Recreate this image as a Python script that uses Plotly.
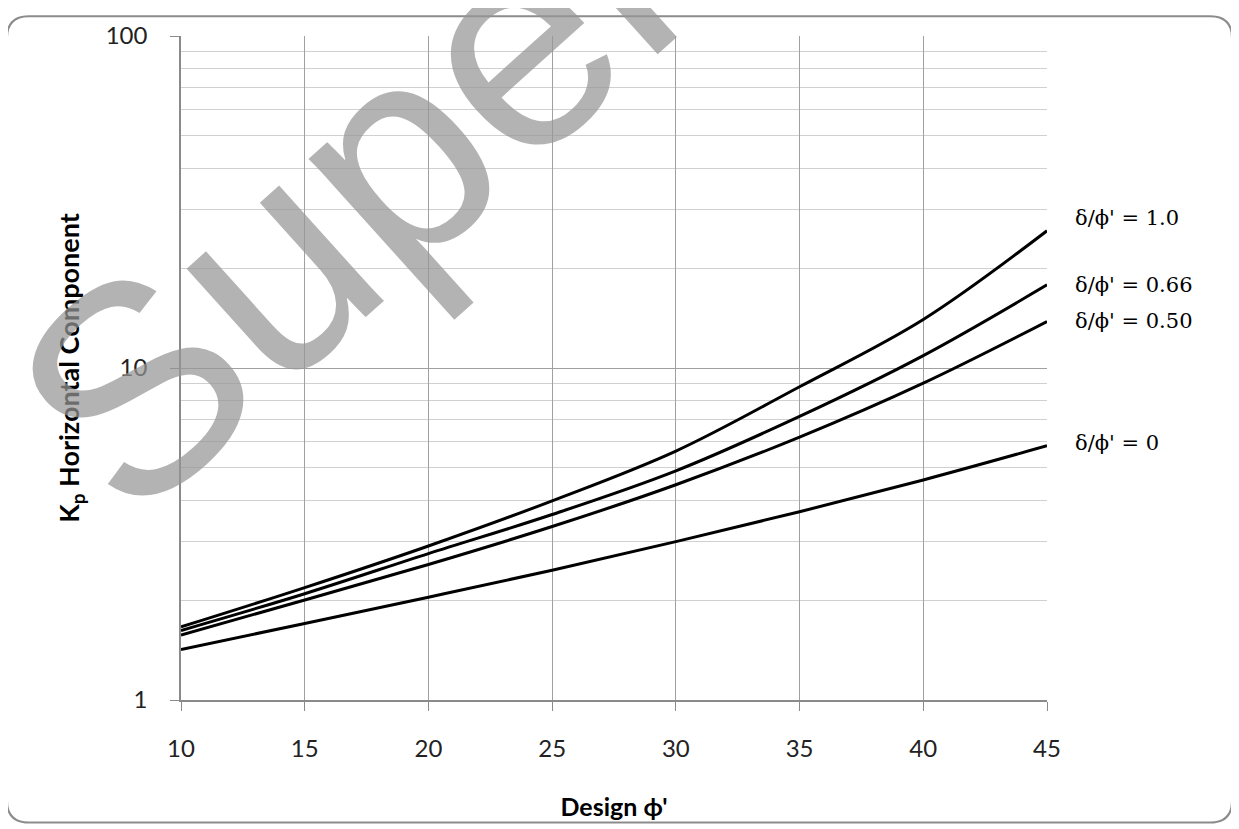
import math
import plotly.graph_objects as go

phi = [10, 15, 20, 25, 30, 35, 40, 45]
kp_10 = [1.66, 2.18, 2.91, 3.98, 5.62, 8.78, 14.0, 25.9]
kp_066 = [1.62, 2.09, 2.76, 3.62, 4.90, 7.15, 10.9, 17.8]
kp_050 = [1.57, 2.00, 2.56, 3.33, 4.45, 6.19, 9.0, 13.8]
kp_00 = [1.42, 1.70, 2.04, 2.46, 3.00, 3.69, 4.60, 5.83]

labels = ["δ/ϕ' = 1.0", "δ/ϕ' = 0.66", "δ/ϕ' = 0.50", "δ/ϕ' = 0"]
curves = [kp_10, kp_066, kp_050, kp_00]
label_shift = [13, 0, 1, 3]

# the page draws the figure 8px in from the top-left corner
OFF = 8
W, H = 1239 - OFF, 829 - OFF
L, R, T, B = 181, 1047, 28, 700  # plot area in picture pixels


def px(x):
    return (x - L) / (R - L)


def py(y):
    return (B - y) / (B - T)


fig = go.Figure()
for name, vals in zip(labels, curves):
    fig.add_trace(go.Scatter(x=phi, y=vals, mode="lines", name=name,
                             line=dict(color="black", width=3, shape="spline", smoothing=1.0),
                             showlegend=False, hoverinfo="x+y"))

for name, vals, ys in zip(labels, curves, label_shift):
    fig.add_annotation(x=phi[-1], y=math.log10(vals[-1]), xref="x", yref="y",
                       text=name, showarrow=False, xanchor="left", yanchor="middle",
                       xshift=26, yshift=ys,
                       font=dict(family="DejaVu Serif", size=21, color="black"))

# watermark
fig.add_annotation(x=px(355), y=py(185), xref="paper", yref="paper",
                   xanchor="center", yanchor="middle",
                   text="Super", showarrow=False, textangle=-42,
                   font=dict(family="Liberation Sans", size=295, color="rgba(150,150,150,0.72)"))

x0, x1, y0, y1, r = 7, 1232, 8, 824, 22
path = (f"M {px(x0 + r)} {py(y0)} L {px(x1 - r)} {py(y0)} "
        f"Q {px(x1)} {py(y0)} {px(x1)} {py(y0 + r)} L {px(x1)} {py(y1 - r)} "
        f"Q {px(x1)} {py(y1)} {px(x1 - r)} {py(y1)} L {px(x0 + r)} {py(y1)} "
        f"Q {px(x0)} {py(y1)} {px(x0)} {py(y1 - r)} L {px(x0)} {py(y0 + r)} "
        f"Q {px(x0)} {py(y0)} {px(x0 + r)} {py(y0)} Z")
fig.add_shape(type="path", path=path, xref="paper", yref="paper",
              line=dict(color="#8c8c8c", width=2), layer="below")

fig.update_layout(
    width=W, height=H,
    margin=dict(l=L - OFF, r=W - (R - OFF), t=T - OFF, b=H - (B - OFF)),
    paper_bgcolor="white", plot_bgcolor="white",
    font=dict(family="Lato", color="#222"),
)
fig.update_xaxes(range=[10, 45], tick0=10, dtick=5, showgrid=True, gridcolor="#a0a0a0", gridwidth=1,
                 showline=True, linecolor="#8a8a8a", linewidth=1.5, ticks="outside", ticklen=9,
                 tickcolor="#8a8a8a", tickfont=dict(size=24, family="Lato", color="#222"),
                 ticklabelstandoff=17, zeroline=False,
                 title=dict(text="<b>Design ϕ'</b>", font=dict(size=25, family="Lato", color="black"),
                            standoff=38))
fig.update_yaxes(type="log", range=[0, 2], dtick=1, showgrid=True, gridcolor="#a0a0a0", gridwidth=1,
                 showline=True, linecolor="#8a8a8a", linewidth=1.5, ticks="outside", ticklen=9,
                 tickcolor="#8a8a8a", tickfont=dict(size=24, family="Lato", color="#222"),
                 ticklabelstandoff=18, zeroline=False,
                 minor=dict(dtick="D1", showgrid=True, gridcolor="#d0d0d0", gridwidth=1, ticks=""),
                 title=dict(text="<b>K<sub>p</sub> Horizontal Component</b>",
                            font=dict(size=27, family="Lato", color="black"), standoff=18))

fig.write_html("out.html")
